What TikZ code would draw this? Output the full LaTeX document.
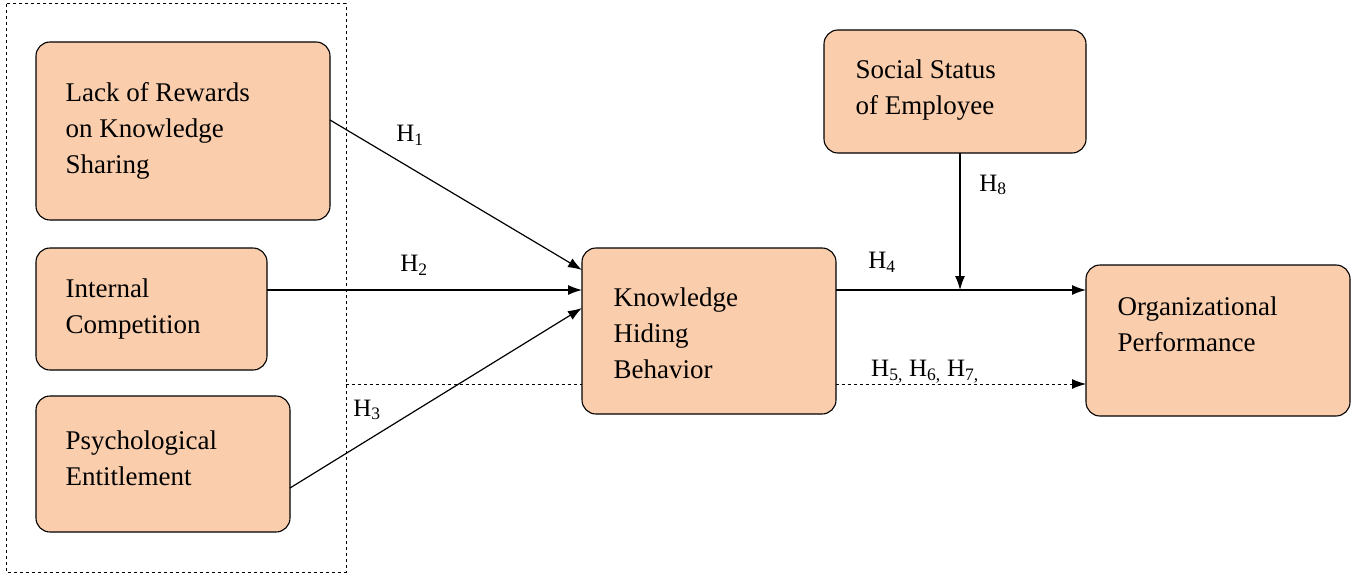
\documentclass[tikz,border=0pt]{standalone}
\usepackage{fontspec}
\setmainfont{Liberation Serif}
\usetikzlibrary{arrows.meta}
\definecolor{peach}{RGB}{250,205,172}
\begin{document}
\begin{tikzpicture}[x=1pt,y=-1pt,
 box/.style={draw=black,line width=1.1pt,fill=peach,rounded corners=14pt},
 txt/.style={font=\fontsize{27}{36}\selectfont,align=left,anchor=west},
 lab/.style={font=\fontsize{25}{30}\selectfont},
 arr/.style={line width=1.2pt,-{Latex[length=14pt,width=10pt]}}]
\useasboundingbox (0,0) rectangle (1356,578);
\draw[dashed,line width=1pt] (6,4) rectangle (346,572);
\draw[box] (36,42) rectangle (330,220);
\node[txt] (a) at (62,131) {Lack of Rewards\\on Knowledge\\Sharing};
\draw[box] (36,248) rectangle (267,370);
\node[txt] (b) at (62,309) {Internal\\Competition};
\draw[box] (36,396) rectangle (290,532);
\node[txt] (c) at (62,458) {Psychological\\Entitlement};
\draw[box] (582,248) rectangle (836,414);
\node[txt] (k) at (610,333) {Knowledge\\Hiding\\Behavior};
\draw[box] (824,30) rectangle (1086,153);
\node[txt] (s) at (852,90) {Social Status\\of Employee};
\draw[box] (1086,265) rectangle (1350,416);
\node[txt] (o) at (1114,324) {Organizational\\Performance};
\coordinate (a1) at (330,120); \coordinate (k1) at (582,270);
\coordinate (b1) at (267,290); \coordinate (k2) at (582,290);
\coordinate (c1) at (290,488); \coordinate (k3) at (582,308);
\coordinate (k4) at (836,290); \coordinate (o1) at (1086,290);
\coordinate (s1) at (960,153); \coordinate (m) at (960,290);
\coordinate (d0) at (346,384); \coordinate (d1) at (582,384);
\coordinate (k5) at (836,384); \coordinate (o2) at (1086,384);
\draw[arr] (a1) -- (k1);
\draw[arr] (b1) -- (k2);
\draw[arr] (c1) -- (k3);
\draw[arr] (k4) -- (o1);
\draw[arr] (s1) -- (m);
\draw[dashed,line width=1pt] (d0) -- (d1);
\draw[dashed,line width=1pt,-{Latex[length=14pt,width=10pt]}] (k5) -- (o2);
\node[lab] at (410,135) {H\textsubscript{1}};
\node[lab] at (414,265) {H\textsubscript{2}};
\node[lab] at (367,410) {H\textsubscript{3}};
\node[lab] at (882,262) {H\textsubscript{4}};
\node[lab] at (993,185) {H\textsubscript{8}};
\node[lab] at (925,372) {H\textsubscript{5,} H\textsubscript{6,} H\textsubscript{7,}};
\end{tikzpicture}
\end{document}
